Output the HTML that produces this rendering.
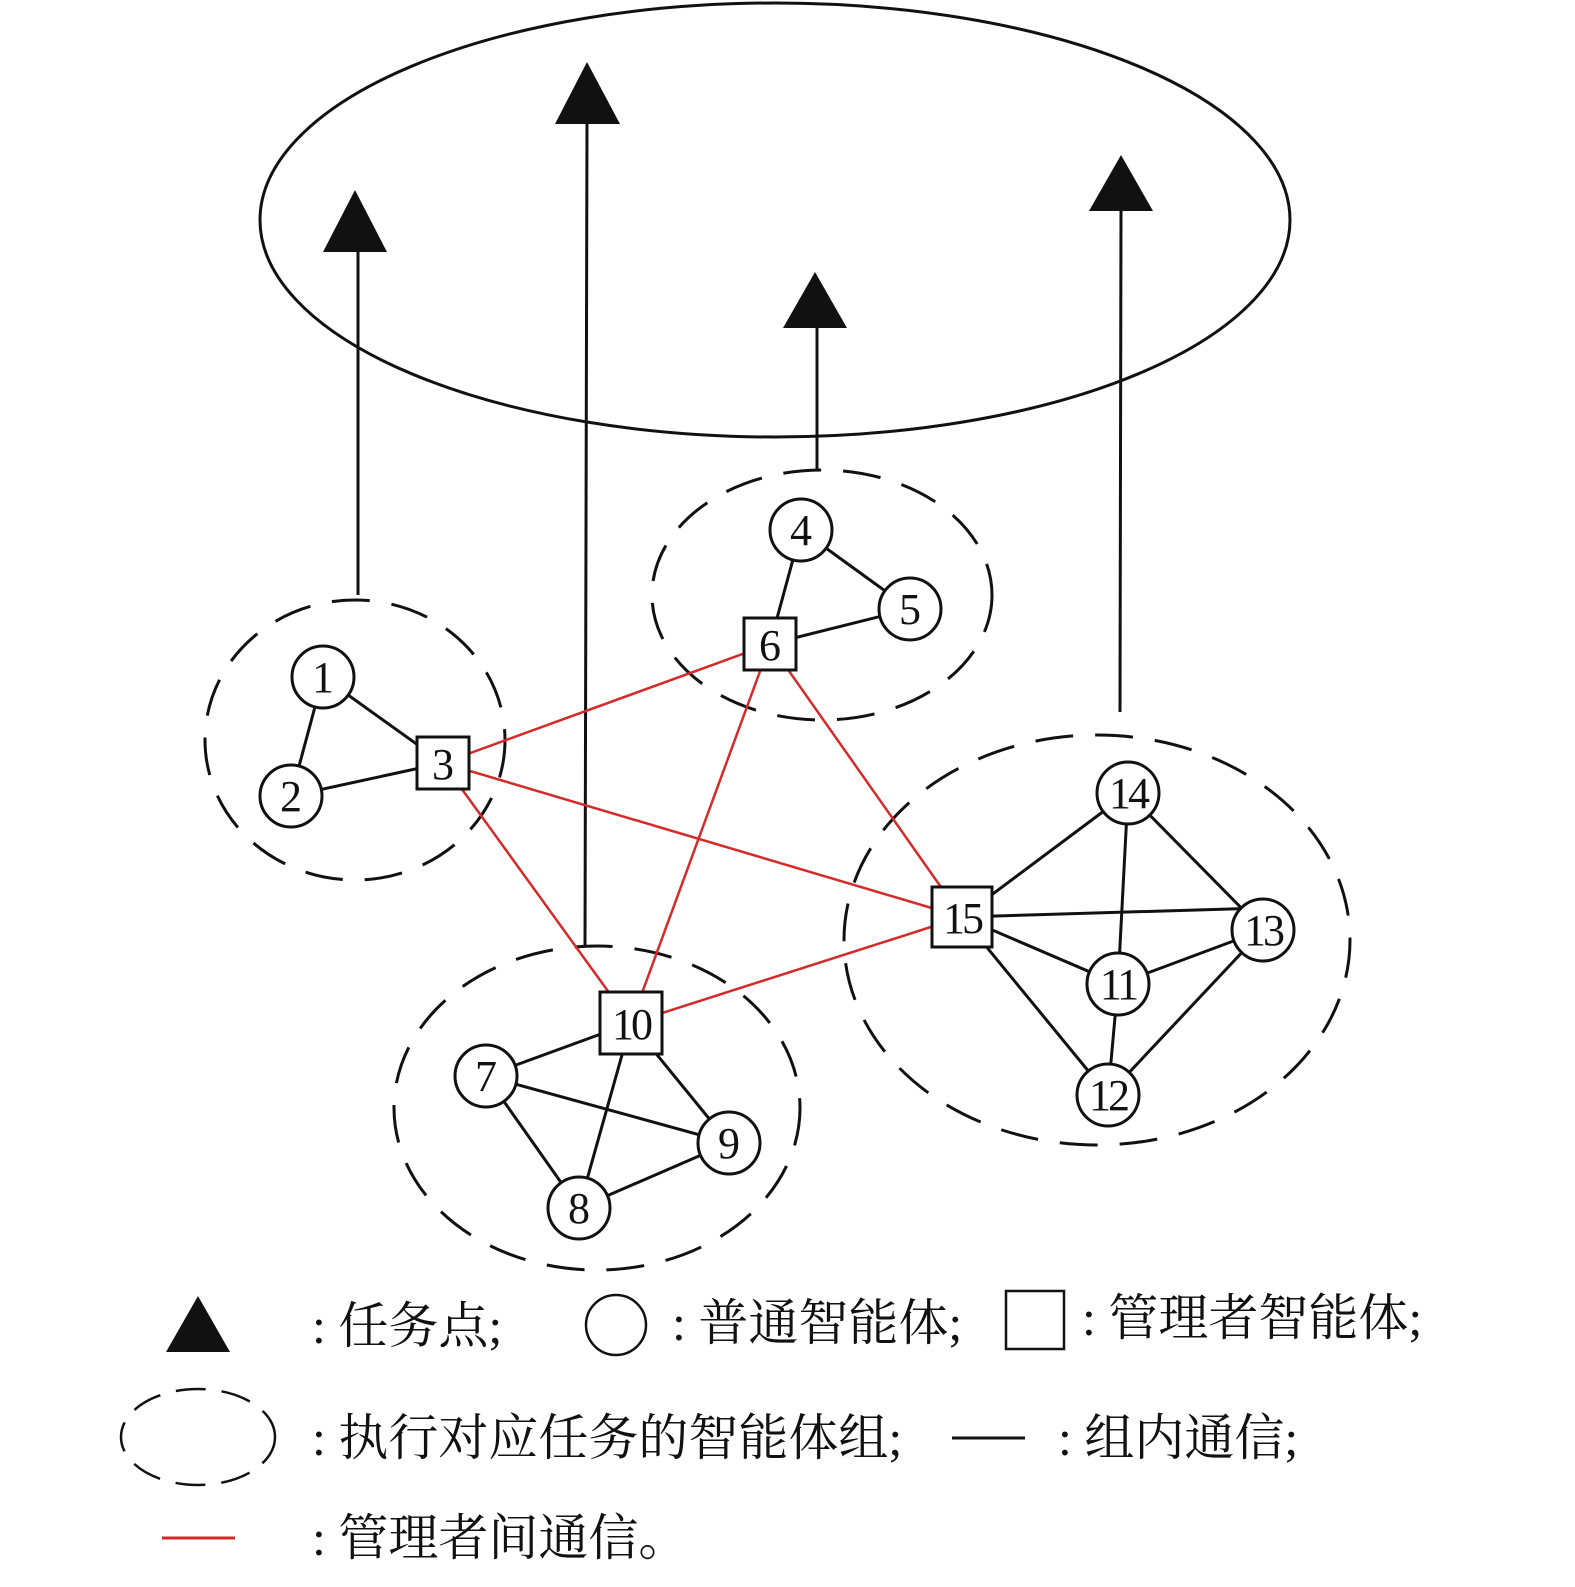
<!DOCTYPE html>
<html><head><meta charset="utf-8"><style>
html,body{margin:0;padding:0;background:#fff;}
svg{display:block;}
text{font-family:"Liberation Serif","Noto Serif CJK SC",serif;fill:#111;}
</style></head><body>
<svg width="1575" height="1587" viewBox="0 0 1575 1587" xmlns="http://www.w3.org/2000/svg">
<g fill="none" stroke="#111" stroke-width="3">
<ellipse cx="775" cy="220" rx="515" ry="217"/>
</g>
<g stroke="#111" stroke-width="3">
<line x1="358" y1="250" x2="358" y2="595"/>
<line x1="587" y1="122" x2="585" y2="945"/>
<line x1="817" y1="326" x2="817" y2="470"/>
<line x1="1121" y1="209" x2="1120" y2="712"/>
</g>
<g fill="#111">
<polygon points="355,190 323,252 387,252"/>
<polygon points="587,62 555,124 620,124"/>
<polygon points="815,272 783,328 847,328"/>
<polygon points="1121,155 1089,211 1153,211"/>
</g>
<g fill="none" stroke="#111" stroke-width="3" stroke-dasharray="38,22">
<ellipse cx="355" cy="740" rx="150" ry="140"/>
<ellipse cx="822" cy="595" rx="170" ry="125"/>
<ellipse cx="597" cy="1108" rx="203" ry="162"/>
<ellipse cx="1097" cy="940" rx="253" ry="205"/>
</g>
<g stroke="#111" stroke-width="3">
<line x1="323" y1="677" x2="443" y2="763"/>
<line x1="323" y1="677" x2="291" y2="796"/>
<line x1="291" y1="796" x2="443" y2="763"/>
<line x1="801" y1="530" x2="770" y2="644"/>
<line x1="801" y1="530" x2="910" y2="609"/>
<line x1="910" y1="609" x2="770" y2="644"/>
<line x1="486" y1="1076" x2="631" y2="1023"/>
<line x1="486" y1="1076" x2="729" y2="1143"/>
<line x1="486" y1="1076" x2="579" y2="1208"/>
<line x1="579" y1="1208" x2="631" y2="1023"/>
<line x1="579" y1="1208" x2="729" y2="1143"/>
<line x1="729" y1="1143" x2="631" y2="1023"/>
<line x1="962" y1="917" x2="1128" y2="793"/>
<line x1="962" y1="917" x2="1263" y2="908"/>
<line x1="962" y1="917" x2="1118" y2="984"/>
<line x1="962" y1="917" x2="1108" y2="1095"/>
<line x1="1128" y1="793" x2="1118" y2="984"/>
<line x1="1128" y1="793" x2="1263" y2="930"/>
<line x1="1118" y1="984" x2="1263" y2="930"/>
<line x1="1118" y1="984" x2="1108" y2="1095"/>
<line x1="1108" y1="1095" x2="1263" y2="930"/>
</g>
<g stroke="#d42a2a" stroke-width="2.5">
<line x1="443" y1="763" x2="770" y2="644"/>
<line x1="443" y1="763" x2="962" y2="917"/>
<line x1="443" y1="763" x2="631" y2="1023"/>
<line x1="770" y1="644" x2="631" y2="1023"/>
<line x1="770" y1="644" x2="962" y2="917"/>
<line x1="631" y1="1023" x2="962" y2="917"/>
</g>
<g fill="#fff" stroke="#111" stroke-width="3">
<circle cx="323" cy="677" r="31"/>
<circle cx="291" cy="796" r="31"/>
<circle cx="801" cy="530" r="31"/>
<circle cx="910" cy="609" r="31"/>
<circle cx="486" cy="1076" r="31"/>
<circle cx="579" cy="1208" r="31"/>
<circle cx="729" cy="1143" r="31"/>
<circle cx="1118" cy="984" r="31"/>
<circle cx="1108" cy="1095" r="31"/>
<circle cx="1263" cy="930" r="31"/>
<circle cx="1128" cy="793" r="31"/>
<rect x="417" y="737" width="52" height="52"/>
<rect x="744" y="618" width="52" height="52"/>
<rect x="600" y="992" width="62" height="62"/>
<rect x="932" y="887" width="60" height="60"/>
</g>
<g font-size="44" text-anchor="middle">
<text x="323" y="692">1</text>
<text x="291" y="811">2</text>
<text x="443" y="779">3</text>
<text x="801" y="545">4</text>
<text x="910" y="624">5</text>
<text x="770" y="660">6</text>
<text x="486" y="1091">7</text>
<text x="579" y="1223">8</text>
<text x="729" y="1158">9</text>
<text x="631" y="1039" letter-spacing="-3">10</text>
<text x="1118" y="999" letter-spacing="-3">11</text>
<text x="1108" y="1110" letter-spacing="-3">12</text>
<text x="1263" y="945" letter-spacing="-3">13</text>
<text x="1128" y="808" letter-spacing="-3">14</text>
<text x="962" y="933" letter-spacing="-3">15</text>
</g>
<polygon points="198,1296 166,1352 230,1352" fill="#111"/>
<circle cx="616" cy="1325" r="30" fill="none" stroke="#111" stroke-width="2.5"/>
<rect x="1006" y="1291" width="58" height="58" fill="none" stroke="#111" stroke-width="2.5"/>
<ellipse cx="198" cy="1437" rx="77" ry="48" fill="none" stroke="#111" stroke-width="2.5" stroke-dasharray="30,16"/>
<line x1="952" y1="1438" x2="1025" y2="1438" stroke="#111" stroke-width="3"/>
<line x1="162" y1="1538" x2="235" y2="1538" stroke="#d42a2a" stroke-width="3"/>
<g font-size="50">
<text x="312" y="1343">: 任务点;</text>
<text x="672" y="1340">: 普通智能体;</text>
<text x="1082" y="1335">: 管理者智能体;</text>
<text x="312" y="1455">: 执行对应任务的智能体组;</text>
<text x="1058" y="1455">: 组内通信;</text>
<text x="312" y="1555">: 管理者间通信。</text>
</g>
</svg>
</body></html>
